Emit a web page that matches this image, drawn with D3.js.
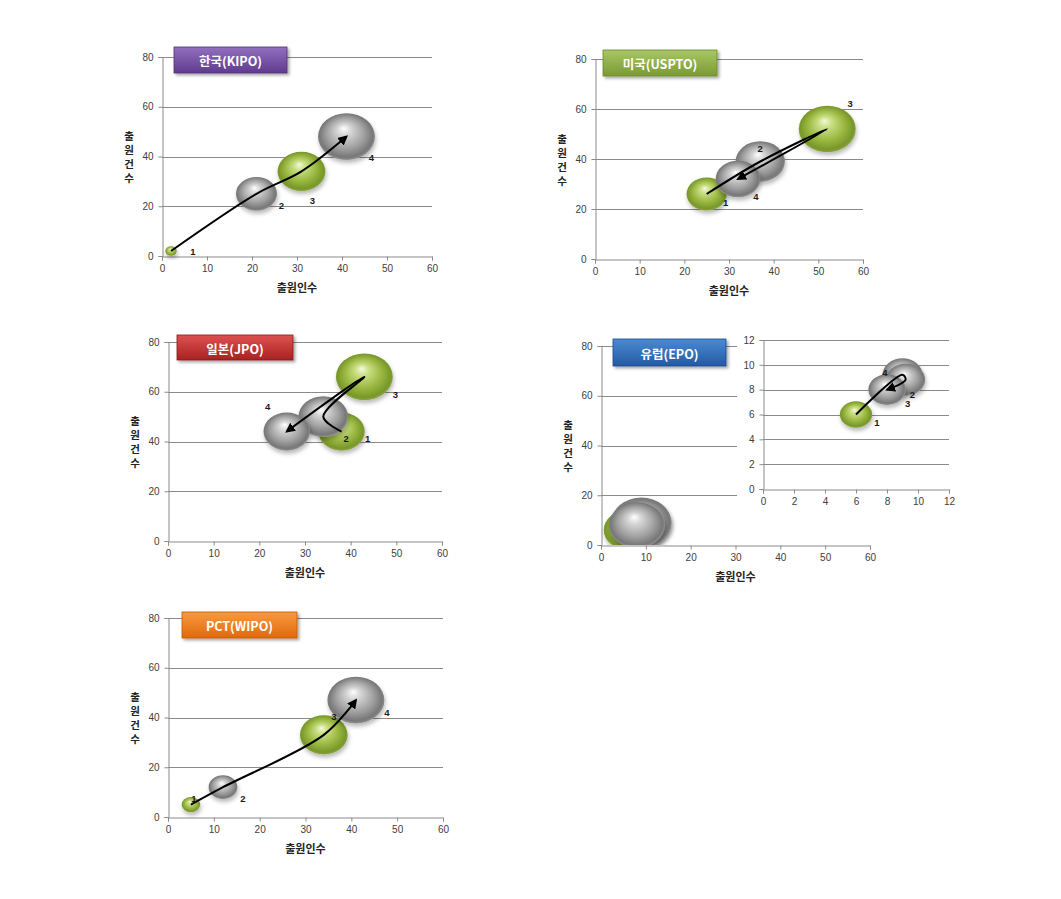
<!DOCTYPE html>
<html><head><meta charset="utf-8">
<script src="https://cdn.jsdelivr.net/npm/d3@7/dist/d3.min.js"></script>
<style>body{margin:0;background:#fff}</style>
</head><body>
<svg id="c" width="1061" height="899"></svg>
<script>
// ---------- DATA ----------
const pointLabels = ["1", "2", "3", "4"];
const xTicksMain = [0, 10, 20, 30, 40, 50, 60];
const yTicksMain = [0, 20, 40, 60, 80];
const ticksInset = [0, 2, 4, 6, 8, 10, 12];
const xAxisTitle = "출원인수";
const yAxisTitle = "출원건수";

const kipoX = [2, 21, 31, 41];
const kipoY = [2, 25, 34, 48];
const kipoKinds = ["green", "gray", "green", "gray"];

const usptoX = [25, 37, 52, 32];
const usptoY = [26, 39, 52, 32];
const usptoKinds = ["green", "gray", "green", "gray"];

const jpoX = [38, 34, 43, 26];
const jpoY = [44, 50, 66, 44];
const jpoKinds = ["green", "gray", "green", "gray"];

const epoX = [6, 9, 9.2, 8];
const epoY = [6, 9.2, 8.8, 8];
const epoKinds = ["green", "gray", "gray", "gray"];

const pctX = [5, 12, 34, 41];
const pctY = [5, 12, 33, 47];
const pctKinds = ["green", "gray", "green", "gray"];

// ---------- LAYOUT / STYLE ----------
const svg = d3.select("#c");
const defs = svg.append("defs");

function radial(id, stops) {
  const g = defs.append("radialGradient").attr("id", id)
    .attr("cx", "50%").attr("cy", "50%").attr("r", "55%")
    .attr("fx", "45%").attr("fy", "32%");
  stops.forEach(s => g.append("stop").attr("offset", s[0]).attr("stop-color", s[1]));
}
radial("gGreen", [[0, "#f4f9dc"], [0.22, "#c9df84"], [0.6, "#98b63e"], [0.85, "#78972a"], [1, "#9ab25a"]]);
radial("gGray", [[0, "#ffffff"], [0.22, "#d6d6d6"], [0.6, "#a0a0a0"], [0.85, "#777777"], [1, "#a6a6a6"]]);

const sh = defs.append("filter").attr("id", "shadow").attr("x", "-30%").attr("y", "-30%").attr("width", "160%").attr("height", "170%");
sh.append("feDropShadow").attr("dx", 1).attr("dy", 3).attr("stdDeviation", 2).attr("flood-color", "#000").attr("flood-opacity", 0.28);

const boxSh = defs.append("filter").attr("id", "boxShadow").attr("x", "-10%").attr("y", "-20%").attr("width", "130%").attr("height", "160%");
boxSh.append("feDropShadow").attr("dx", 2).attr("dy", 2).attr("stdDeviation", 1.5).attr("flood-color", "#000").attr("flood-opacity", 0.35);

function linear(id, top, bottom) {
  const g = defs.append("linearGradient").attr("id", id).attr("x1", 0).attr("y1", 0).attr("x2", 0).attr("y2", 1);
  g.append("stop").attr("offset", 0).attr("stop-color", top);
  g.append("stop").attr("offset", 1).attr("stop-color", bottom);
}
linear("bPurple", "#9270bf", "#5f3b8e");
linear("bGreen", "#a9c765", "#7a9a34");
linear("bRed", "#de5050", "#a82222");
linear("bBlue", "#4a8ad3", "#2559a3");
linear("bOrange", "#f99a40", "#e0690c");

const marker = defs.append("marker").attr("id", "arrow")
  .attr("viewBox", "0 0 10 10").attr("refX", 8).attr("refY", 5)
  .attr("markerWidth", 5).attr("markerHeight", 5).attr("orient", "auto-start-reverse")
  .attr("markerUnits", "strokeWidth");
marker.append("path").attr("d", "M0,0 L10,5 L0,10 z").attr("fill", "#000");

const fillFor = { green: "url(#gGreen)", gray: "url(#gGray)" };
const FONT_NUM = "'Liberation Sans', Arial, sans-serif";
const FONT_KR = "'Noto Sans CJK KR', 'Noto Sans', sans-serif";

let clipId = 0;

function drawPlot(cfg) {
  const g = svg.append("g");
  const x = d3.scaleLinear().domain(cfg.xDomain).range([cfg.x0, cfg.x1]);
  const y = d3.scaleLinear().domain(cfg.yDomain).range([cfg.y1, cfg.y0]);
  const maxV = d3.max(cfg.ys);
  const r = d3.scaleSqrt().domain([0, maxV]).range([0, cfg.rMax]);

  if (cfg.bg) {
    g.append("rect").attr("x", cfg.bg[0]).attr("y", cfg.bg[1]).attr("width", cfg.bg[2]).attr("height", cfg.bg[3]).attr("fill", "#fff");
  }

  // gridlines
  g.append("g").selectAll("line").data(cfg.yTicks.filter(t => t > cfg.yDomain[0])).join("line")
    .attr("x1", cfg.x0).attr("x2", cfg.x1)
    .attr("y1", d => Math.round(y(d)) + 0.5).attr("y2", d => Math.round(y(d)) + 0.5)
    .attr("stroke", "#8a8a8a").attr("stroke-width", 1);

  // axes
  const ax = g.append("g").attr("transform", `translate(0,${Math.round(cfg.y1) + 0.5})`)
    .call(d3.axisBottom(x).tickValues(cfg.xTicks).tickSize(4).tickPadding(4).tickFormat(d3.format("d")));
  const ay = g.append("g").attr("transform", `translate(${Math.round(cfg.x0) + 0.5},0)`)
    .call(d3.axisLeft(y).tickValues(cfg.yTicks).tickSize(4).tickPadding(5).tickFormat(d3.format("d")));
  [ax, ay].forEach(a => {
    a.select(".domain").attr("stroke", "#8a8a8a");
    a.selectAll(".tick line").attr("stroke", "#8a8a8a");
    a.selectAll(".tick text").attr("fill", "#404040").attr("font-family", FONT_NUM).attr("font-size", "10px");
  });

  // bubbles
  const cid = "clip" + (clipId++);
  defs.append("clipPath").attr("id", cid).append("rect")
    .attr("x", cfg.x0).attr("y", cfg.y0 - 40).attr("width", cfg.x1 - cfg.x0 + 60).attr("height", cfg.y1 - cfg.y0 + 40);
  const pts = cfg.xs.map((v, i) => ({ x: v, y: cfg.ys[i], kind: cfg.kinds[i], label: pointLabels[i], i }));
  const bg = g.append("g").attr("clip-path", cfg.clip ? `url(#${cid})` : null);
  bg.selectAll("ellipse").data(pts).join("ellipse")
    .attr("cx", d => x(d.x)).attr("cy", d => y(d.y))
    .attr("rx", d => r(d.y)).attr("ry", d => r(d.y) * 0.82)
    .attr("fill", d => fillFor[d.kind]).attr("filter", "url(#shadow)");

  // trajectory arrow
  if (cfg.arrow) {
    const line = d3.line().x(d => x(d.x)).y(d => y(d.y)).curve(d3.curveCatmullRom.alpha(0.5));
    g.append("path").attr("d", line(pts)).attr("fill", "none").attr("stroke", "#000")
      .attr("stroke-width", 2).attr("marker-end", "url(#arrow)");
  }

  // point labels
  if (cfg.labelOff) {
    g.selectAll("text.pl").data(pts).join("text").attr("class", "pl")
      .attr("x", d => x(d.x) + cfg.labelOff[d.i][0]).attr("y", d => y(d.y) + cfg.labelOff[d.i][1])
      .attr("text-anchor", "middle").attr("dominant-baseline", "central")
      .attr("font-family", FONT_NUM).attr("font-size", "9.5px").attr("font-weight", "bold").attr("fill", "#1a1a1a")
      .text(d => d.label);
  }

  // axis titles
  if (cfg.titles) {
    const cxm = (cfg.x0 + cfg.x1) / 2, cym = (cfg.y0 + cfg.y1) / 2;
    g.append("text").attr("x", cxm).attr("y", cfg.y1 + 31).attr("text-anchor", "middle")
      .attr("dominant-baseline", "central")
      .attr("font-family", FONT_KR).attr("font-size", "11px").attr("font-weight", "bold").attr("fill", "#222")
      .text(xAxisTitle);
    const chars = Array.from(yAxisTitle);
    g.selectAll("text.yt").data(chars).join("text").attr("class", "yt")
      .attr("x", cfg.x0 - 33).attr("y", (c, k) => cym + (k - (chars.length - 1) / 2) * 14)
      .attr("text-anchor", "middle").attr("dominant-baseline", "central")
      .attr("font-family", FONT_KR).attr("font-size", "10.5px").attr("font-weight", "bold").attr("fill", "#222")
      .style("line-height", "1")
      .text(c => c);
  }

  // title box
  if (cfg.box) {
    const [bx, by, bw, bh] = cfg.box;
    g.append("rect").attr("x", bx).attr("y", by).attr("width", bw).attr("height", bh)
      .attr("fill", `url(#${cfg.boxFill})`).attr("stroke", cfg.boxStroke).attr("stroke-width", 0.8)
      .attr("filter", "url(#boxShadow)");
    g.append("text").attr("x", bx + bw / 2).attr("y", by + bh / 2 + 0.5).attr("text-anchor", "middle")
      .attr("dominant-baseline", "central").attr("font-family", FONT_KR).attr("font-size", "12.5px")
      .attr("font-weight", "bold").attr("fill", "#fff").text(cfg.title);
  }
}

const mainBase = { xDomain: [0, 60], yDomain: [0, 80], xTicks: xTicksMain, yTicks: yTicksMain, arrow: true, titles: true, rMax: 28.5 };

drawPlot(Object.assign({}, mainBase, {
  title: "한국(KIPO)", x0: 162, x1: 432, y0: 57, y1: 256, xs: kipoX, ys: kipoY, kinds: kipoKinds,
  labelOff: [[22, 0], [25, 12], [11, 29], [25, 21]],
  box: [174, 47, 113, 26], boxFill: "bPurple", boxStroke: "#4e2d78"
}));
drawPlot(Object.assign({}, mainBase, {
  title: "미국(USPTO)", x0: 595, x1: 863, y0: 59, y1: 259, xs: usptoX, ys: usptoY, kinds: usptoKinds,
  labelOff: [[19, 8], [0, -13], [23, -26], [18, 17]],
  box: [603, 50, 114, 26], boxFill: "bGreen", boxStroke: "#6a8a2a"
}));
drawPlot(Object.assign({}, mainBase, {
  title: "일본(JPO)", x0: 168, x1: 442, y0: 342, y1: 541, xs: jpoX, ys: jpoY, kinds: jpoKinds,
  labelOff: [[26, 7], [23, 22], [31, 18], [-19, -25]],
  box: [177, 335, 116, 25], boxFill: "bRed", boxStroke: "#8e1a1a"
}));
// EPO main (bubbles clipped, no arrow)
drawPlot(Object.assign({}, mainBase, {
  title: "유럽(EPO)", x0: 601, x1: 870, y0: 346, y1: 545, xs: epoX, ys: epoY, kinds: epoKinds,
  arrow: false, clip: true, rMax: 30,
  box: [613, 339, 113, 27], boxFill: "bBlue", boxStroke: "#1d4a8a"
}));
// EPO inset
drawPlot({
  xDomain: [0, 12], yDomain: [0, 12], xTicks: ticksInset, yTicks: ticksInset,
  x0: 763, x1: 949, y0: 340, y1: 489, xs: epoX, ys: epoY, kinds: epoKinds,
  arrow: true, titles: false, rMax: 20, bg: [737, 328, 222, 186],
  labelOff: [[21, 8], [10, 20], [2, 24], [-2, -17]]
});
drawPlot(Object.assign({}, mainBase, {
  title: "PCT(WIPO)", x0: 168, x1: 443, y0: 618, y1: 817, xs: pctX, ys: pctY, kinds: pctKinds,
  labelOff: [[3, -6], [20, 11], [10, -18], [31, 12]],
  box: [182, 612, 115, 26], boxFill: "bOrange", boxStroke: "#c05a08"
}));
</script>
</body></html>
